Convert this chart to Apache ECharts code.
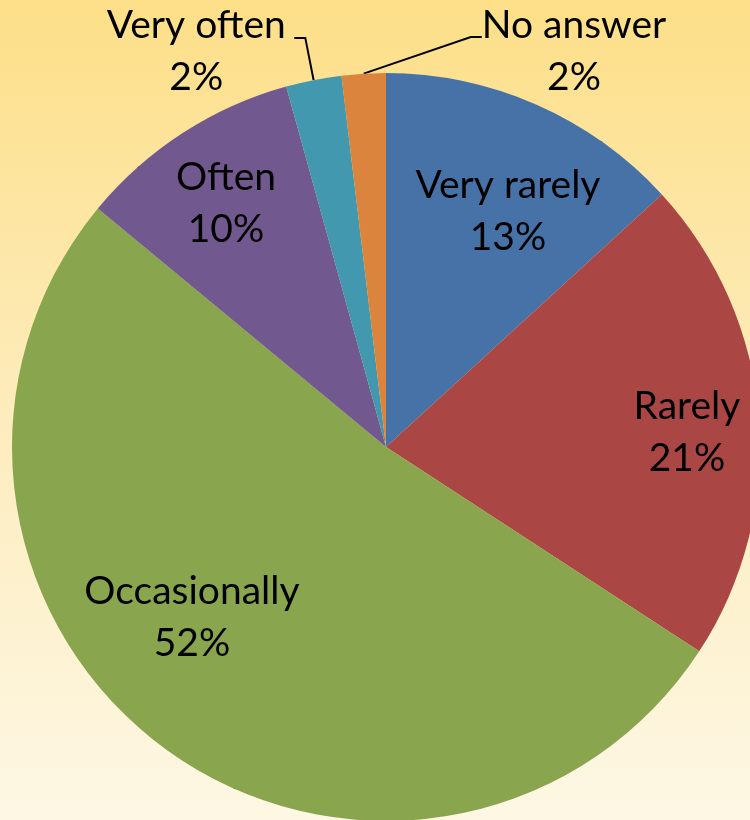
<!DOCTYPE html>
<html>
<head>
<meta charset="utf-8">
<title>Pie</title>
<script src="https://cdn.jsdelivr.net/npm/echarts@6/dist/echarts.min.js"></script>
<style>
  html, body { margin: 0; padding: 0; }
  #myChart { width: 750px; height: 820px; }
</style>
</head>
<body>
<div id="myChart"></div>
<script>
// data (share of answers, %)
const categories = ['Very rarely', 'Rarely', 'Occasionally', 'Often', 'Very often', 'No answer']
const values = [13.2, 21.0, 51.8, 9.7, 2.4, 1.9]
const colors = ['#4672a8', '#aa4744', '#89a54e', '#71588f', '#4198af', '#db843d']

// where the labels sit (label centre); null = leave it to echarts
const labelPos = [[508, 211], [687, 432], [192, 617], [226, 203], null, [574, 37]]

const font = 'Lato, "Liberation Sans", sans-serif'
const fontSize = 39
const lh = 52

const smallLabel = (w) => ({
  position: 'outside',
  padding: [28, 0, 0, 0],
  formatter: (p) => '{t|' + p.name + '}\n{t|' + p.percent + '%}',
  rich: {
    t: { width: w, align: 'center', fontSize: fontSize, lineHeight: lh, fontFamily: font, color: '#000' }
  }
})

const seriesData = categories.map((name, i) => {
  const item = { name: name, value: values[i], itemStyle: { color: colors[i] } }
  if (i === 4) item.label = smallLabel(184)
  else if (i === 5) item.label = smallLabel(184)
  else item.label = { position: 'inside' }
  return item
})

const myChart = echarts.init(document.getElementById('myChart'))
myChart.setOption({
  backgroundColor: {
    type: 'linear', x: 0, y: 0, x2: 0, y2: 1,
    colorStops: [
      { offset: 0, color: '#fddf88' },
      { offset: 0.5, color: '#fdecbc' },
      { offset: 1, color: '#fdf7e4' }
    ]
  },
  animation: false,
  series: [{
    type: 'pie',
    center: [386, 447],
    radius: 374,
    startAngle: 90,
    clockwise: true,
    percentPrecision: 0,
    avoidLabelOverlap: false,
    data: seriesData,
    itemStyle: { borderWidth: 0 },
    label: {
      color: '#000',
      fontFamily: font,
      fontSize: fontSize,
      lineHeight: lh,
      distanceToLabelLine: 6,
      formatter: (p) => p.name + '\n' + p.percent + '%'
    },
    labelLine: {
      show: true,
      length: 43,
      length2: 11,
      smooth: false,
      lineStyle: { color: '#000', width: 2 }
    },
    labelLayout: (params) => {
      const pos = labelPos[params.dataIndex]
      if (!pos) return {}
      return { x: pos[0], y: pos[1], align: 'center', verticalAlign: 'middle' }
    }
  }]
})
window.addEventListener('resize', () => {
  myChart.resize()
})
</script>
</body>
</html>
